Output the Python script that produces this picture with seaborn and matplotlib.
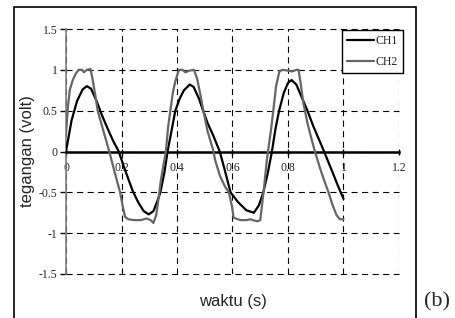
import matplotlib
matplotlib.use("Agg")
import matplotlib.pyplot as plt
import seaborn as sns
import pandas as pd
from matplotlib.patches import Rectangle

# ---- data ----
ch1_t = [0.00, 0.02, 0.04, 0.06, 0.075, 0.09, 0.11, 0.13, 0.15, 0.17, 0.19, 0.21, 0.24, 0.26,
         0.28, 0.298, 0.315, 0.33, 0.34, 0.355, 0.366, 0.38, 0.394, 0.41, 0.425, 0.446, 0.46,
         0.48, 0.494, 0.51, 0.53, 0.554, 0.57, 0.593, 0.62, 0.65, 0.677, 0.695, 0.711, 0.728,
         0.742, 0.755, 0.768, 0.785, 0.80, 0.813, 0.83, 0.85, 0.87, 0.89, 0.91, 0.93, 0.96,
         0.98, 1.00]
ch1_v = [0.00, 0.38, 0.62, 0.76, 0.80, 0.77, 0.62, 0.44, 0.28, 0.13, 0.00, -0.20, -0.48, -0.62,
         -0.73, -0.77, -0.73, -0.60, -0.50, -0.25, 0.00, 0.25, 0.50, 0.65, 0.75, 0.82, 0.79,
         0.64, 0.50, 0.35, 0.20, 0.00, -0.20, -0.50, -0.62, -0.72, -0.75, -0.66, -0.50, -0.25,
         0.00, 0.28, 0.50, 0.72, 0.84, 0.875, 0.82, 0.66, 0.50, 0.32, 0.16, 0.00, -0.25,
         -0.42, -0.58]

ch2_t = [0.000, 0.007, 0.014, 0.025, 0.035, 0.045, 0.058, 0.065, 0.075, 0.088, 0.095, 0.105,
         0.114, 0.135, 0.156, 0.175, 0.195, 0.205, 0.213, 0.225, 0.245, 0.270, 0.290, 0.305,
         0.315, 0.325, 0.333, 0.342, 0.352, 0.360, 0.368, 0.376, 0.385, 0.394, 0.407, 0.420,
         0.430, 0.445, 0.461, 0.472, 0.484, 0.495, 0.510, 0.530, 0.537, 0.555, 0.573, 0.587,
         0.598, 0.604, 0.628, 0.652, 0.664, 0.689, 0.700, 0.706, 0.714, 0.724, 0.730, 0.740,
         0.747, 0.757, 0.769, 0.780, 0.800, 0.815, 0.830, 0.838, 0.845, 0.855, 0.870, 0.885,
         0.897, 0.915, 0.930, 0.946, 0.960, 0.975, 0.987, 1.000]
ch2_v = [0.22, 0.55, 0.76, 0.88, 0.95, 1.00, 1.00, 0.97, 1.00, 1.01, 0.90, 0.70,
         0.50, 0.25, 0.00, -0.25, -0.50, -0.68, -0.80, -0.83, -0.84, -0.84, -0.82, -0.84,
         -0.875, -0.78, -0.59, -0.35, -0.15, 0.00, 0.30, 0.50, 0.72, 0.86, 1.00, 1.00,
         0.97, 0.99, 1.00, 0.90, 0.70, 0.50, 0.25, 0.02, -0.10, -0.30, -0.43, -0.50,
         -0.67, -0.81, -0.84, -0.84, -0.83, -0.855, -0.84, -0.67, -0.43, -0.10, 0.05, 0.30,
         0.50, 0.80, 0.98, 1.00, 0.99, 0.98, 1.00, 1.00, 0.85, 0.60, 0.35, 0.15,
         0.00, -0.20, -0.35, -0.50, -0.65, -0.78, -0.83, -0.83]

series_names = ["CH1", "CH2"]
series_colors = ["#000000", "#666666"]
x_ticks = [0, 0.2, 0.4, 0.6, 0.8, 1.0, 1.2]
x_tick_labels = ["0", "0.2", "0.4", "0.6", "0.8", "1", "1.2"]
y_ticks = [-1.5, -1, -0.5, 0, 0.5, 1, 1.5]
y_tick_labels = ["-1.5", "-1", "-0.5", "0", "0.5", "1", "1.5"]

df = pd.concat([
    pd.DataFrame({"t": ch1_t, "v": ch1_v, "ch": series_names[0]}),
    pd.DataFrame({"t": ch2_t, "v": ch2_v, "ch": series_names[1]}),
], ignore_index=True)

sns.set_style("white")
plt.rcParams["font.family"] = ["Liberation Serif", "DejaVu Serif"]

W, H = 456, 318
fig = plt.figure(figsize=(W / 100, H / 100), dpi=100)
ax = fig.add_axes([66 / W, 1 - 274 / H, (399 - 66) / W, (274 - 29) / H])

sns.lineplot(data=df, x="t", y="v", hue="ch", hue_order=series_names,
             palette=dict(zip(series_names, series_colors)), linewidth=1.6,
             estimator=None, sort=False, ax=ax, zorder=4)

ax.set_xlim(0, 1.2)
ax.set_ylim(-1.5, 1.5)
ax.set_xticks(x_ticks)
ax.set_xticklabels(x_tick_labels)
ax.set_yticks(y_ticks)
ax.set_yticklabels(y_tick_labels)

# grid
ax.grid(True, color="black", linestyle=(0, (5.5, 4)), linewidth=0.8)
for gl in ax.get_xgridlines() + ax.get_ygridlines():
    gl.set_clip_on(False)
ax.set_axisbelow(True)

for s in ["top", "right"]:
    ax.spines[s].set_visible(False)
ax.spines["bottom"].set_position(("data", 0))
ax.spines["bottom"].set_color("black")
ax.spines["bottom"].set_linewidth(1.8)
ax.spines["bottom"].set_zorder(3)
ax.spines["left"].set_color("#808080")
ax.spines["left"].set_linewidth(1.2)
ax.spines["left"].set_zorder(3)

ax.tick_params(axis="x", direction="inout", length=5, width=1, color="black",
               labelsize=8.5, pad=5, bottom=True)
ax.tick_params(axis="y", direction="out", length=4, width=1, color="black",
               labelsize=8.5, pad=2, left=True)
for lab in ax.get_xticklabels() + ax.get_yticklabels():
    lab.set_fontfamily(["Liberation Serif", "DejaVu Serif"])

ax.set_xlabel("")
ax.set_ylabel("")
fig.text(232.5 / W, 1 - 301.5 / H, "waktu (s)", ha="center", va="center",
         fontsize=12, family=["Liberation Sans", "DejaVu Sans"])
fig.text(28 / W, 1 - 151 / H, "tegangan (volt)", ha="center", va="center",
         rotation=90, fontsize=12, family=["Liberation Sans", "DejaVu Sans"])
fig.text(437 / W, 1 - 302 / H, "(b)", ha="center", va="center",
         fontsize=16, family=["Liberation Serif", "DejaVu Serif"])

# outer border
fig.patches.append(Rectangle((14 / W, -0.01), (416 - 14) / W, 1.01 - 7 / H,
                             transform=fig.transFigure, fill=False,
                             edgecolor="black", linewidth=1.2))

leg = ax.legend(loc="upper right", bbox_to_anchor=(403 / W, 1 - 30 / H),
                bbox_transform=fig.transFigure, borderaxespad=0, frameon=True,
                fancybox=False, edgecolor="black", framealpha=1,
                prop={"family": "Liberation Serif", "size": 8.5},
                handlelength=2.3, handletextpad=0.1, labelspacing=0.75,
                borderpad=0.45, title=None)
leg.get_frame().set_linewidth(1.0)
for ln in leg.get_lines():
    ln.set_linewidth(1.6)

fig.savefig("out.png", dpi=100)
